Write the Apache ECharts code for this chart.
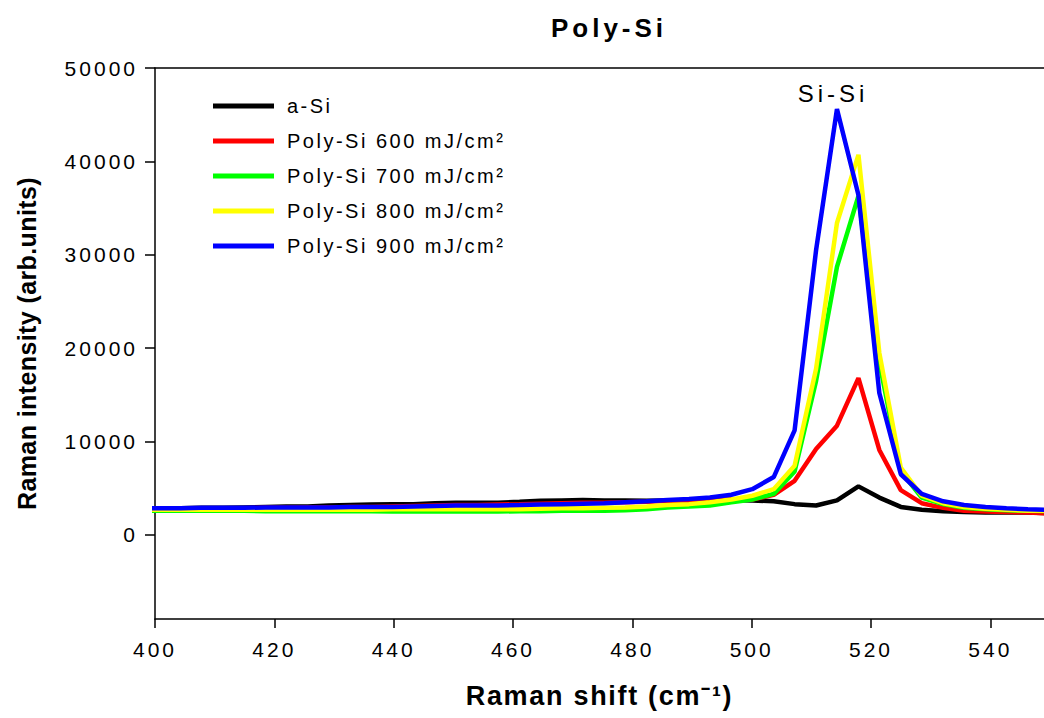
<!DOCTYPE html>
<html>
<head>
<meta charset="utf-8">
<title>Poly-Si</title>
<script src="https://cdn.jsdelivr.net/npm/echarts@6/dist/echarts.min.js"></script>
<style>
  html, body { margin: 0; padding: 0; background: #fff; }
  #chart { width: 1044px; height: 718px; }
  /* the original plot uses wide letter spacing; pick it per font size */
  #chart text[style*="21px"] { letter-spacing: 3px; }
  #chart text[style*="20px"] { letter-spacing: 2.5px; }
  #chart text[style*="26px"] { letter-spacing: 4px; }
  #chart text[style*="27px"] { letter-spacing: 1.7px; }
  #chart text[style*="25px"] { letter-spacing: 0.4px; }
  #chart text[style*="24px"] { letter-spacing: 4px; }
</style>
</head>
<body>
<div id="chart"></div>
<script>
// Raman shift of each measured point (cm-1)
var shift = [397.2, 400.7, 404.3, 407.8, 411.4, 414.9, 418.5, 422.0, 425.6, 429.1,
             432.7, 436.2, 439.8, 443.3, 446.9, 450.4, 454.0, 457.5, 461.1, 464.6,
             468.2, 471.7, 475.3, 478.8, 482.4, 485.9, 489.5, 493.0, 496.6, 500.1,
             503.7, 507.2, 510.8, 514.3, 517.9, 521.4, 525.0, 528.5, 532.1, 535.6,
             539.2, 542.7, 546.3, 549.8];

// intensities (arb. units)
var aSi  = [2800, 2800, 2850, 2900, 2900, 2950, 3000, 3050, 3050, 3150,
            3200, 3250, 3300, 3300, 3400, 3450, 3450, 3450, 3550, 3650,
            3700, 3750, 3700, 3700, 3650, 3700, 3750, 3750, 3750, 3700,
            3600, 3300, 3150, 3700, 5200, 4000, 3000, 2700, 2550, 2450,
            2400, 2400, 2400, 2350];
var p600 = [2750, 2750, 2800, 2800, 2850, 2850, 2900, 2900, 2950, 2950,
            3000, 3000, 3050, 3100, 3150, 3200, 3200, 3250, 3300, 3350,
            3400, 3450, 3450, 3500, 3550, 3650, 3700, 3750, 3800, 3800,
            4300, 5800, 9200, 11700, 16800, 9100, 4800, 3400, 2900, 2600,
            2500, 2450, 2400, 2300];
var p700 = [2600, 2600, 2600, 2600, 2600, 2600, 2550, 2550, 2550, 2550,
            2550, 2550, 2500, 2500, 2500, 2500, 2500, 2500, 2550, 2550,
            2600, 2600, 2600, 2650, 2750, 2950, 3050, 3150, 3500, 3800,
            4400, 6800, 16500, 28700, 36300, 18500, 6800, 4000, 3300, 2900,
            2750, 2650, 2600, 2550];
var p800 = [2700, 2700, 2700, 2700, 2700, 2700, 2700, 2700, 2700, 2700,
            2700, 2700, 2750, 2750, 2750, 2750, 2750, 2750, 2750, 2800,
            2850, 2850, 2900, 2950, 3050, 3200, 3300, 3500, 3800, 4200,
            4900, 7400, 17800, 33400, 40700, 19500, 7200, 4200, 3400, 3000,
            2800, 2700, 2600, 2600];
var p900 = [2850, 2850, 2850, 2900, 2900, 2900, 2950, 2950, 2950, 2950,
            3000, 3000, 3000, 3050, 3100, 3150, 3150, 3150, 3200, 3250,
            3300, 3350, 3400, 3500, 3600, 3750, 3850, 4000, 4300, 4900,
            6200, 11200, 30500, 45600, 36400, 15200, 6500, 4400, 3600, 3200,
            3000, 2850, 2750, 2700];

var seriesNames  = ['a-Si', 'Poly-Si 600 mJ/cm\u00b2', 'Poly-Si 700 mJ/cm\u00b2', 'Poly-Si 800 mJ/cm\u00b2', 'Poly-Si 900 mJ/cm\u00b2'];
var seriesColors = ['#000000', '#ff0000', '#00ff00', '#ffff00', '#0000ff'];
var seriesValues = [aSi, p600, p700, p800, p900];

var xTicks = [400, 420, 440, 460, 480, 500, 520, 540];
var yTicks = [0, 10000, 20000, 30000, 40000, 50000];

var font = '"Liberation Sans", Arial, sans-serif';

function toPairs(ys) {
  return shift.map(function (x, i) { return [x, ys[i]]; });
}

var peak = p900.indexOf(Math.max.apply(null, p900));

var series = seriesValues.map(function (vals, i) {
  var s = {
    name: seriesNames[i],
    type: 'line',
    data: toPairs(vals),
    showSymbol: false,
    color: seriesColors[i],
    lineStyle: { width: 4.5, color: seriesColors[i] },
    z: 2 + i
  };
  if (i === 4) {
    s.markPoint = {
      symbol: 'circle',
      symbolSize: 0,
      silent: true,
      data: [{ coord: [shift[peak], p900[peak]] }],
      label: {
        show: true, position: 'top', distance: 4, offset: [-4, 0],
        formatter: 'Si-Si', color: '#000', fontFamily: font, fontSize: 24
      }
    };
  }
  return s;
});

var chart = echarts.init(document.getElementById('chart'), null, { renderer: 'svg' });

chart.setOption({
  animation: false,
  backgroundColor: '#fff',
  title: {
    text: 'Poly-Si',
    left: 604, top: 10, textAlign: 'center',
    textStyle: { fontFamily: font, fontSize: 26, fontWeight: 'bold', color: '#000' }
  },
  legend: {
    orient: 'vertical',
    left: 213, top: 91,
    padding: 0,
    itemWidth: 61, itemHeight: 5, itemGap: 5,
    icon: 'rect',
    data: seriesNames,
    textStyle: {
      padding: [0, 0, 0, 8],
      color: '#000', fontFamily: font, fontSize: 20, lineHeight: 30
    }
  },
  grid: { left: 155, right: 0, top: 68, bottom: 99 },
  xAxis: [{
    type: 'value', min: 400, max: 549,
    axisLine: { onZero: false, lineStyle: { color: '#000', width: 1.5 } },
    axisTick: { customValues: xTicks, length: 9, lineStyle: { color: '#000', width: 1.5 } },
    axisLabel: { customValues: xTicks, margin: 20, color: '#000', fontFamily: font, fontSize: 21 },
    splitLine: { show: false },
    name: 'Raman shift (cm\u207b\u00b9)',
    nameLocation: 'middle', nameGap: 63,
    nameTextStyle: { fontFamily: font, fontSize: 27, fontWeight: 'bold', color: '#000' }
  }, {
    type: 'value', min: 400, max: 549, position: 'top',
    axisLine: { onZero: false, lineStyle: { color: '#000', width: 1.5 } },
    axisTick: { show: false }, axisLabel: { show: false }, splitLine: { show: false }
  }],
  yAxis: {
    type: 'value', min: -9000, max: 50000,
    axisLine: { show: true, onZero: false, lineStyle: { color: '#000', width: 1.5 } },
    axisTick: { show: true, customValues: yTicks, length: 10, lineStyle: { color: '#000', width: 1.5 } },
    axisLabel: {
      customValues: yTicks, margin: 17, color: '#000', fontFamily: font, fontSize: 21,
      formatter: function (v) { return String(v); }
    },
    splitLine: { show: false },
    name: 'Raman intensity (arb.units)',
    nameLocation: 'middle', nameGap: 116,
    nameTextStyle: { fontFamily: font, fontSize: 25, fontWeight: 'bold', color: '#000' }
  },
  series: series
});
</script>
</body>
</html>
